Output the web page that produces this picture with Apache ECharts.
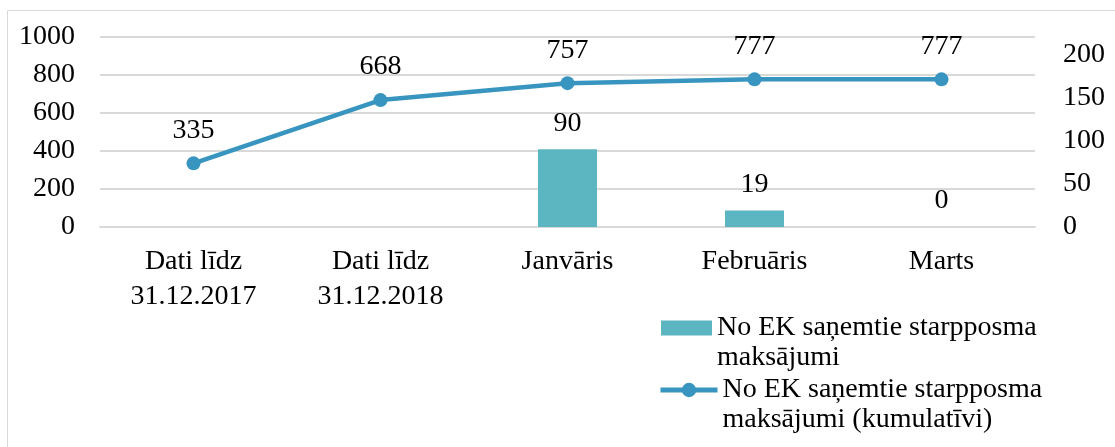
<!DOCTYPE html>
<html>
<head>
<meta charset="utf-8">
<script src="https://cdn.jsdelivr.net/npm/echarts@6/dist/echarts.min.js"></script>
<style>
    html, body { margin: 0; padding: 0; background: #fff; }
    #chart { width: 1115px; height: 447px; }
</style>
</head>
<body>
<div id="chart"></div>
<script>
let categories = ['Dati līdz\n31.12.2017', 'Dati līdz\n31.12.2018', 'Janvāris', 'Februāris', 'Marts'];
let monthlyPayments = [null, null, 90, 19, 0];
let cumulativePayments = [335, 668, 757, 777, 777];
let barName = 'No EK saņemtie starpposma\nmaksājumi';
let lineName = 'No EK saņemtie starpposma\nmaksājumi (kumulatīvi)';

let font = 'Liberation Serif';
let fontSize = 28;
let barColor = '#5bb6c1';
let lineColor = '#3895bf';

// empty first line so the icon sits next to the first text line
let legendText = {
    fontFamily: font,
    fontSize: fontSize,
    color: '#000',
    lineHeight: 30
};
let legendFormatter = function (name) {
    return '\n' + name;
};

let option = {
    animation: false,
    textStyle: { fontFamily: font },
    graphic: [
        {
            type: 'rect',
            shape: { x: 7.5, y: 10.5, width: 1200, height: 600 },
            style: { fill: 'none', stroke: '#d9d9d9', lineWidth: 1 },
            silent: true
        }
    ],
    legend: [
        {
            data: [{ name: barName, icon: 'rect' }],
            left: 661,
            top: 283,
            padding: 0,
            itemWidth: 51,
            itemHeight: 15,
            formatter: legendFormatter,
            textStyle: legendText
        },
        {
            data: [lineName],
            left: 658,
            top: 345,
            padding: 0,
            itemWidth: 57,
            itemHeight: 18,
            lineStyle: { width: 5 },
            formatter: legendFormatter,
            textStyle: legendText
        }
    ],
    grid: {
        left: 100,
        right: 80,
        top: 37,
        bottom: 220
    },
    xAxis: {
        type: 'category',
        data: categories,
        axisTick: { show: false },
        axisLine: { show: true, lineStyle: { color: '#d9d9d9', width: 2 } },
        axisLabel: {
            interval: 0,
            margin: 17,
            fontFamily: font,
            fontSize: fontSize,
            lineHeight: 35,
            color: '#000'
        }
    },
    yAxis: [
        {
            type: 'value',
            min: 0,
            max: 1000,
            interval: 200,
            axisLine: { show: false },
            axisTick: { show: false },
            axisLabel: {
                margin: 25,
                fontFamily: font,
                fontSize: fontSize,
                color: '#000',
                formatter: function (v) { return String(v); }
            },
            splitLine: { lineStyle: { color: '#d9d9d9', width: 2 } }
        },
        {
            type: 'value',
            min: 0,
            max: 220,
            interval: 50,
            axisLine: { show: false },
            axisTick: { show: false },
            splitLine: { show: false },
            axisLabel: { margin: 28, showMaxLabel: false, fontFamily: font, fontSize: fontSize, color: '#000' }
        }
    ],
    series: [
        {
            name: barName,
            type: 'bar',
            yAxisIndex: 1,
            data: monthlyPayments,
            barWidth: 59,
            itemStyle: { color: barColor },
            label: {
                show: true,
                position: 'top',
                distance: 12,
                fontFamily: font,
                fontSize: fontSize,
                color: '#000'
            }
        },
        {
            name: lineName,
            type: 'line',
            yAxisIndex: 0,
            data: cumulativePayments,
            symbol: 'circle',
            symbolSize: 14,
            lineStyle: { color: lineColor, width: 4.5 },
            itemStyle: { color: lineColor },
            label: {
                show: true,
                position: 'top',
                distance: 12,
                fontFamily: font,
                fontSize: fontSize,
                color: '#000'
            }
        }
    ]
};

let chart = echarts.init(document.getElementById('chart'));
chart.setOption(option);
</script>
</body>
</html>
